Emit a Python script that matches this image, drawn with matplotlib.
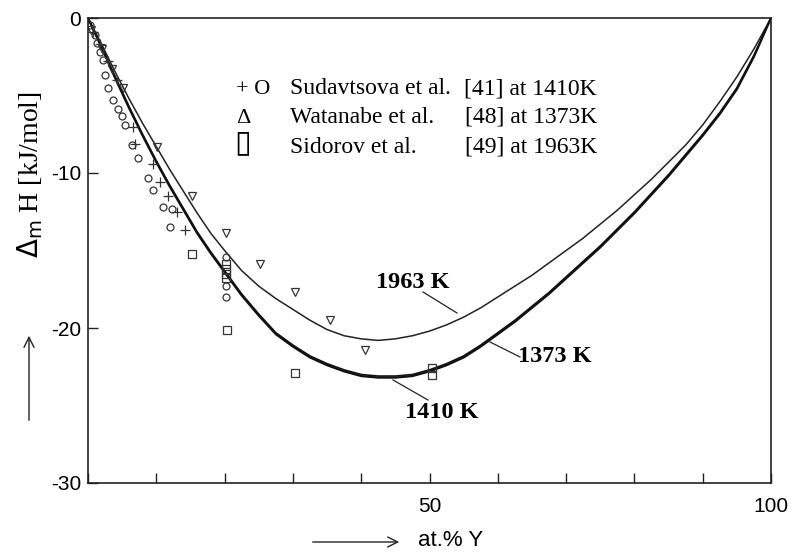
import matplotlib
matplotlib.use("Agg")
import matplotlib.pyplot as plt
from matplotlib.patches import FancyArrowPatch

# Calculated enthalpy of mixing curves (at.% Y vs kJ/mol)
x_calc = [0, 2, 4, 6, 8, 10, 12, 14, 16, 18, 20, 22.5, 25, 27.5, 30, 32.5, 35, 37.5, 40, 42.5,
          45, 47.5, 50, 52.5, 55, 57.5, 60, 62.5, 65, 67.5, 70, 72.5, 75, 77.5, 80, 82.5, 85,
          87.5, 90, 92.5, 95, 97.5, 100]
h_1963 = [0, -1.7, -3.5, -5.2, -6.8, -8.3, -9.8, -11.2, -12.6, -13.9, -15.0, -16.3, -17.3, -18.1,
          -18.8, -19.5, -20.1, -20.5, -20.7, -20.8, -20.7, -20.5, -20.2, -19.8, -19.3, -18.7,
          -18.0, -17.3, -16.6, -15.8, -15.0, -14.2, -13.3, -12.4, -11.4, -10.4, -9.3, -8.2,
          -6.9, -5.4, -3.8, -2.0, 0]
h_1410 = [0, -1.9, -3.9, -5.8, -7.6, -9.3, -10.9, -12.4, -13.9, -15.2, -16.4, -17.9, -19.2, -20.4,
          -21.2, -21.9, -22.4, -22.8, -23.1, -23.2, -23.2, -23.1, -22.8, -22.4, -21.9, -21.2,
          -20.4, -19.6, -18.7, -17.8, -16.8, -15.8, -14.8, -13.7, -12.6, -11.4, -10.2, -8.9,
          -7.6, -6.2, -4.6, -2.5, 0]
h_1373 = [0, -1.9, -3.8, -5.7, -7.5, -9.2, -10.8, -12.3, -13.8, -15.1, -16.3, -17.8, -19.1, -20.3,
          -21.1, -21.8, -22.3, -22.7, -23.0, -23.1, -23.1, -23.0, -22.7, -22.3, -21.8, -21.1,
          -20.3, -19.5, -18.6, -17.7, -16.7, -15.7, -14.7, -13.6, -12.5, -11.3, -10.1, -8.8,
          -7.5, -6.1, -4.5, -2.4, 0]

# Sudavtsova et al. [41], circles
sud_o_x = [0.3, 1.0, 1.3, 1.8, 2.2, 2.5, 2.9, 3.7, 4.4, 5.0, 5.4, 6.4, 7.3, 8.8, 9.5, 11.0, 12.3, 12.0,
           20.2, 20.2, 20.2]
sud_o_y = [-0.45, -1.1, -1.6, -2.2, -2.7, -3.7, -4.5, -5.3, -5.9, -6.3, -6.9, -8.2, -9.0, -10.3, -11.1,
           -12.2, -12.3, -13.5, -15.4, -17.3, -18.0]
# Sudavtsova et al. [41], crosses
sud_p_x = [0.8, 1.8, 3.0, 4.3, 6.6, 6.9, 9.5, 10.5, 11.7, 13.0, 14.2]
sud_p_y = [-0.9, -1.7, -2.8, -4.0, -7.0, -8.1, -9.4, -10.6, -11.5, -12.5, -13.7]
# Watanabe et al. [48]
wat_x = [0.5, 2.0, 3.5, 5.1, 10.1, 15.2, 20.2, 25.2, 30.3, 35.4, 40.6]
wat_y = [-0.8, -2.0, -3.3, -4.5, -8.3, -11.5, -13.9, -15.9, -17.7, -19.5, -21.4]
# Sidorov et al. [49]
sid_x = [15.2, 20.2, 20.2, 20.2, 20.2, 20.3, 30.3, 50.3, 50.3]
sid_y = [-15.2, -15.9, -16.2, -16.5, -16.8, -20.1, -22.9, -22.6, -23.0]

legend_marks = ["+ O", "\u0394", "\u25af"]
legend_names = ["Sudavtsova et al.", "Watanabe et al.", "Sidorov et al."]
legend_refs = ["[41] at 1410K", "[48] at 1373K", "[49] at 1963K"]

serif = ["Liberation Serif", "DejaVu Serif"]
sans = ["Liberation Sans", "DejaVu Sans"]

fig = plt.figure(figsize=(7.97, 5.58), dpi=100)
ax = fig.add_axes([88 / 797, 1 - 483 / 558, (771 - 88) / 797, (483 - 18) / 558])

ax.plot(x_calc, h_1963, color="#222222", lw=1.1)
ax.plot(x_calc, h_1410, color="#111111", lw=1.6)
ax.plot(x_calc, h_1373, color="#111111", lw=1.2)

mk = dict(linestyle="none", markerfacecolor="none", markeredgecolor="#333333", markeredgewidth=0.9)
ax.plot(sud_o_x, sud_o_y, marker="o", markersize=5.0, **mk)
ax.plot(sud_p_x, sud_p_y, marker="+", markersize=7, linestyle="none", color="#333333", markeredgewidth=0.9)
ax.plot(wat_x, wat_y, marker="v", markersize=6.0, **mk)
ax.plot(sid_x, sid_y, marker="s", markersize=5.5, **mk)

ax.set_xlim(0, 100)
ax.set_ylim(-30, 0)
ax.set_xticks([0, 10, 20, 30, 40, 50, 60, 70, 80, 90, 100])
ax.set_xticklabels(["", "", "", "", "", "50", "", "", "", "", "100"])
ax.set_yticks([0, -10, -20, -30])
ax.set_yticklabels(["0", "-10", "-20", "-30"])
ax.tick_params(axis="both", direction="in", length=7, width=1.0, labelsize=15, color="#222222")
ax.tick_params(axis="x", top=False, pad=10)
ax.tick_params(axis="y", right=False, pad=5)
for lab in ax.get_xticklabels() + ax.get_yticklabels():
    lab.set_family(sans)
for s in ax.spines.values():
    s.set_linewidth(1.2)
    s.set_color("#222222")

# legend block, set on common baselines
rows_base = [94, 123, 153]
for yy, m, n, r in zip(rows_base, legend_marks, legend_names, legend_refs):
    fy = 1 - yy / 558
    if m == "\u25af":
        fig.text(234 / 797, fy + 2 / 558, m, family=["DejaVu Sans"], fontsize=22,
                 va="baseline", ha="left")
    else:
        fig.text(236 / 797, fy, m, family=serif, fontsize=16, va="baseline", ha="left")
    fig.text(290 / 797, fy, n, family=serif, fontsize=17, va="baseline", ha="left")
    fig.text(597 / 797, fy, r, family=serif, fontsize=17, va="baseline", ha="right")

# curve labels with leader lines
def label(txt, tx, ty, x0, y0, x1, y1):
    fig.text(tx / 797, 1 - ty / 558, txt, family=serif, fontsize=17.5, fontweight="bold",
             va="center", ha="left")
    fig.add_artist(plt.Line2D([x0 / 797, x1 / 797], [1 - y0 / 558, 1 - y1 / 558],
                              color="#222222", lw=0.9))

label("1963 K", 376, 282, 423, 292, 457, 313)
label("1373 K", 518, 357, 490, 342, 520, 357)
label("1410 K", 405, 413, 393, 380, 428, 400)

# axis titles with arrows
fig.text(30 / 797, 1 - 175 / 558, r"$\Delta_{\rm m}$ H [kJ/mol]", family=serif, fontsize=20,
         rotation=90, va="center", ha="center")
fig.add_artist(FancyArrowPatch((29 / 797, 1 - 423 / 558), (29 / 797, 1 - 333 / 558),
                               transform=fig.transFigure, arrowstyle="->",
                               mutation_scale=18, lw=1.0, color="#222222"))
fig.text(418 / 797, 1 - 540 / 558, "at.% Y", family=sans, fontsize=16, va="center", ha="left")
fig.add_artist(FancyArrowPatch((310 / 797, 1 - 542 / 558), (402 / 797, 1 - 542 / 558),
                               transform=fig.transFigure, arrowstyle="->",
                               mutation_scale=18, lw=1.0, color="#222222"))

fig.savefig("out.png", dpi=100)
